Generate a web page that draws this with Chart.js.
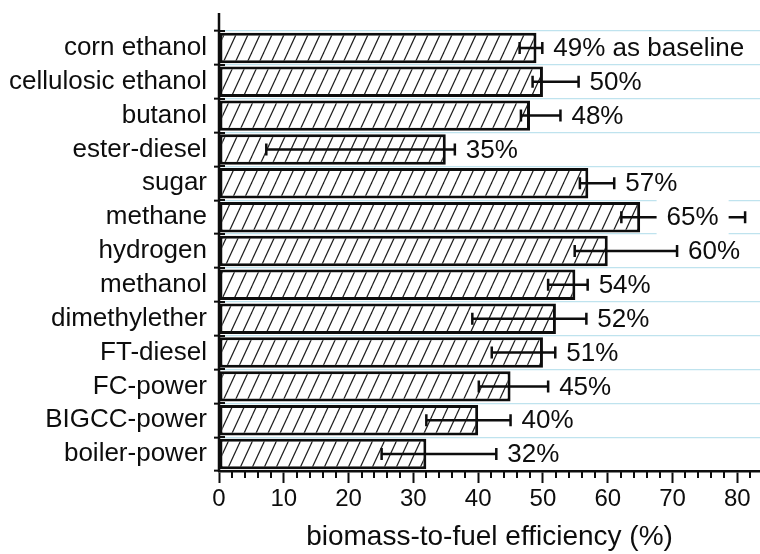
<!DOCTYPE html>
<html>
<head>
<meta charset="utf-8">
<script src="https://cdn.jsdelivr.net/npm/chart.js@4.4.1/dist/chart.umd.min.js"></script>
<style>
  html, body { margin: 0; padding: 0; background: #fff; }
</style>
</head>
<body>
<canvas id="effChart" width="760" height="554"></canvas>
<script>
// values
var fuels = ['corn ethanol', 'cellulosic ethanol', 'butanol', 'ester-diesel', 'sugar', 'methane', 'hydrogen',
             'methanol', 'dimethylether', 'FT-diesel', 'FC-power', 'BIGCC-power', 'boiler-power'];
var efficiency = [49, 50, 48, 35, 57, 65, 60, 55, 52, 50, 45, 40, 32];
var errLow = [46.4, 48.4, 46.6, 7.3, 55.7, 62.1, 54.9, 50.8, 39.1, 42.1, 40.1, 32, 25.1];
var errHigh = [49.9, 55.5, 52.7, 36.4, 61, 81.2, 70.7, 56.9, 56.7, 51.9, 50.8, 45, 42.8];
var valueLabels = ['49% as baseline', '50%', '48%', '35%', '57%', '65%', '60%', '54%', '52%', '51%', '45%', '40%', '32%'];
var xTickLabels = [0, 10, 20, 30, 40, 50, 60, 70, 80];

var FONT = '"Liberation Sans", Arial, Helvetica, sans-serif';
var INK = '#0d0d0d';

// diagonal hatch fill for the bars
function makeHatch() {
    var w = 12, h = 26;
    var c = document.createElement('canvas');
    c.width = w; c.height = h;
    var g = c.getContext('2d');
    g.fillStyle = '#fff';
    g.fillRect(0, 0, w, h);
    g.strokeStyle = '#1e1e1e';
    g.lineWidth = 1.2;
    [[0, 0], [-w, 0], [w, 0], [0, -h], [0, h]].forEach(function (o) {
        g.beginPath();
        g.moveTo(o[0], h + o[1]);
        g.lineTo(w + o[0], o[1]);
        g.stroke();
    });
    return g.createPattern(c, 'repeat');
}

// axis line, minor ticks, error bars and value labels
var extras = {
    id: 'extras',
    afterDatasetsDraw: function (chart) {
        var ctx = chart.ctx, xs = chart.scales.x, ys = chart.scales.y, area = chart.chartArea;
        ctx.save();

        // y axis line reaching above the plot
        ctx.strokeStyle = INK;
        ctx.lineWidth = 2.5;
        ctx.beginPath();
        ctx.moveTo(area.left, 13);
        ctx.lineTo(area.left, area.bottom + 1);
        ctx.stroke();

        // category ticks crossing the axis
        var step = ys.getPixelForValue(1) - ys.getPixelForValue(0);
        ctx.lineWidth = 2;
        for (var b = 0; b <= fuels.length; b++) {
            var yb = Math.round(ys.getPixelForValue(0) - step / 2 + b * step);
            ctx.beginPath();
            ctx.moveTo(area.left, yb);
            ctx.lineTo(area.left + 6, yb);
            ctx.stroke();
        }

        // minor x ticks
        ctx.lineWidth = 2;
        for (var v = 0; v <= xs.max; v += 2) {
            if (v % 10 === 0) continue;
            var xp = Math.round(xs.getPixelForValue(v));
            ctx.beginPath();
            ctx.moveTo(xp, area.bottom);
            ctx.lineTo(xp, area.bottom + 7);
            ctx.stroke();
        }

        // error bars
        ctx.lineWidth = 2.5;
        fuels.forEach(function (f, i) {
            var y = ys.getPixelForValue(i);
            var x0 = xs.getPixelForValue(errLow[i]);
            var x1 = xs.getPixelForValue(errHigh[i]);
            ctx.beginPath();
            ctx.moveTo(x0, y); ctx.lineTo(x1, y);
            ctx.moveTo(x0, y - 6); ctx.lineTo(x0, y + 6);
            ctx.moveTo(x1, y - 6); ctx.lineTo(x1, y + 6);
            ctx.stroke();
        });

        // value labels
        ctx.font = '26px ' + FONT;
        ctx.textBaseline = 'middle';
        fuels.forEach(function (f, i) {
            var y = ys.getPixelForValue(i) + 1;
            var txt = valueLabels[i];
            var w = ctx.measureText(txt).width;
            var x = xs.getPixelForValue(errHigh[i]) + 11;
            if (x + w > area.right) {
                // no room: sit on the error bar with a white box behind
                var cx = (xs.getPixelForValue(efficiency[i]) + xs.getPixelForValue(errHigh[i])) / 2;
                x = cx - w / 2;
                ctx.fillStyle = '#fff';
                ctx.fillRect(x - 10, y - 19, w + 20, 37);
            }
            ctx.fillStyle = INK;
            ctx.textAlign = 'left';
            ctx.fillText(txt, x, y);
        });
        ctx.restore();
    }
};

var ctxEff = document.getElementById('effChart').getContext('2d');
var effChart = new Chart(ctxEff, {
    type: 'bar',
    data: {
        labels: fuels,
        datasets: [{
            label: 'biomass-to-fuel efficiency',
            data: efficiency,
            backgroundColor: makeHatch(),
            borderColor: INK,
            borderWidth: 3,
            borderSkipped: false,
            barPercentage: 0.9,
            categoryPercentage: 1
        }]
    },
    options: {
        indexAxis: 'y',
        responsive: false,
        devicePixelRatio: 1,
        animation: false,
        layout: { padding: { top: 31, right: 0, left: 0, bottom: 0 } },
        plugins: {
            legend: { display: false },
            tooltip: { enabled: false }
        },
        scales: {
            x: {
                type: 'linear',
                min: 0,
                max: 83.5,
                afterFit: function (s) { s.height = 83; },
                border: { display: true, color: INK, width: 2.5 },
                grid: {
                    drawOnChartArea: false,
                    tickLength: 12,
                    tickWidth: 2,
                    tickColor: function (c) {
                        return xTickLabels.indexOf(Math.round(c.tick.value)) >= 0 ? INK : 'rgba(0,0,0,0)';
                    }
                },
                ticks: {
                    stepSize: 2,
                    includeBounds: false,
                    autoSkip: false,
                    maxRotation: 0,
                    padding: 2,
                    color: INK,
                    font: { family: FONT, size: 24 },
                    callback: function (v) {
                        return xTickLabels.indexOf(Math.round(v)) >= 0 ? String(Math.round(v)) : '';
                    }
                },
                title: {
                    display: true,
                    text: 'biomass-to-fuel efficiency (%)',
                    color: INK,
                    font: { family: FONT, size: 28 },
                    padding: { top: 0, bottom: 0 }
                }
            },
            y: {
                afterFit: function (s) { s.width = 219; },
                border: { display: false },
                grid: {
                    offset: true,
                    color: '#bfe3ee',
                    lineWidth: 1.3,
                    tickColor: INK,
                    tickLength: 5,
                    tickWidth: 2
                },
                ticks: {
                    autoSkip: false,
                    padding: 7,
                    color: INK,
                    font: { family: FONT, size: 26 }
                }
            }
        }
    },
    plugins: [extras]
});
</script>
</body>
</html>
